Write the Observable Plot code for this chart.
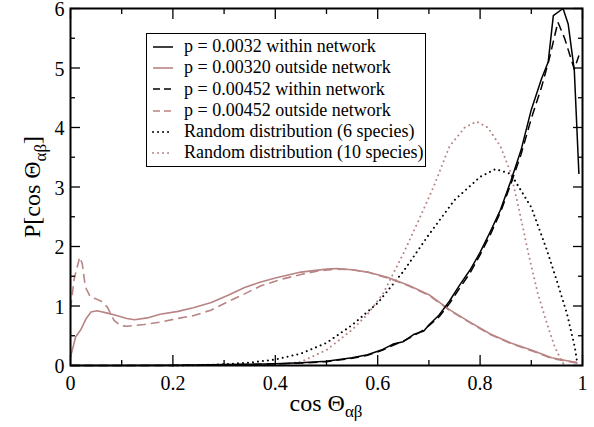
<!DOCTYPE html>
<html>
<head>
<meta charset="utf-8">
<script src="https://cdn.jsdelivr.net/npm/d3@7"></script>
<script src="https://cdn.jsdelivr.net/npm/@observablehq/plot@0.6"></script>
<style>
  html, body { margin: 0; padding: 0; background: white; }
  #wrap { position: relative; width: 594px; height: 427px; font-family: "Liberation Serif", "Times New Roman", Times, "DejaVu Serif", serif; }
  #wrap svg text { font-family: "Liberation Serif", "Times New Roman", Times, "DejaVu Serif", serif; }
  #legend { position: absolute; left: 146px; top: 33px; width: 280px; height: 134px; box-sizing: border-box;
            border: 1.5px solid black; background: white; padding-top: 2px; }
  .row { display: flex; align-items: center; height: 21.3px; font-size: 18px; line-height: 21.3px; white-space: nowrap; }
  .row svg { margin-left: 5px; margin-right: 10px; flex: none; }
</style>
</head>
<body>
<div id="wrap"></div>
<script>
// ---- data ----
const xTicksMajor = [0, 0.2, 0.4, 0.6, 0.8, 1];
const xTicksMinor = [0.1, 0.3, 0.5, 0.7, 0.9];
const yTicksMajor = [0, 1, 2, 3, 4, 5, 6];
const yTicksMinor = [0.5, 1.5, 2.5, 3.5, 4.5, 5.5];

const seriesNames = [
  "p = 0.0032 within network",
  "p = 0.00320 outside network",
  "p = 0.00452 within network",
  "p = 0.00452 outside network",
  "Random distribution (6 species)",
  "Random distribution (10 species)"
];

// p = 0.0032 within network (black solid)
const x1 = [0, 0.1, 0.2, 0.25, 0.3, 0.35, 0.4, 0.45, 0.5, 0.55, 0.58, 0.61, 0.63, 0.65, 0.67, 0.69, 0.70, 0.72, 0.74, 0.76, 0.78, 0.80, 0.82, 0.84, 0.86, 0.88, 0.90, 0.92, 0.933, 0.943, 0.962, 0.972, 0.984, 0.993];
const y1 = [0, 0, 0.003, 0.008, 0.015, 0.02, 0.03, 0.045, 0.07, 0.13, 0.18, 0.27, 0.36, 0.40, 0.52, 0.58, 0.68, 0.85, 1.08, 1.35, 1.6, 1.9, 2.25, 2.62, 3.1, 3.62, 4.3, 4.82, 5.1, 5.88, 6.0, 5.74, 4.96, 3.22];

// p = 0.00320 outside network (brown solid)
const x2 = [0, 0.01, 0.02, 0.03, 0.04, 0.052, 0.072, 0.09, 0.11, 0.125, 0.15, 0.175, 0.21, 0.24, 0.275, 0.31, 0.34, 0.37, 0.4, 0.45, 0.5, 0.52, 0.55, 0.58, 0.62, 0.66, 0.7, 0.74, 0.78, 0.82, 0.86, 0.9, 0.94, 0.97, 0.99];
const y2 = [0.14, 0.48, 0.6, 0.78, 0.9, 0.92, 0.88, 0.84, 0.79, 0.77, 0.8, 0.86, 0.91, 0.97, 1.06, 1.19, 1.31, 1.4, 1.47, 1.57, 1.62, 1.63, 1.61, 1.57, 1.48, 1.35, 1.19, 0.94, 0.73, 0.53, 0.38, 0.26, 0.13, 0.08, 0.05];

// p = 0.00452 within network (black dashed)
const x3 = [0, 0.1, 0.2, 0.25, 0.3, 0.35, 0.4, 0.45, 0.5, 0.55, 0.58, 0.61, 0.63, 0.65, 0.67, 0.69, 0.70, 0.72, 0.74, 0.76, 0.78, 0.80, 0.82, 0.84, 0.86, 0.88, 0.90, 0.92, 0.935, 0.952, 0.965, 0.984, 0.993];
const y3 = [0, 0, 0.002, 0.006, 0.012, 0.018, 0.028, 0.04, 0.065, 0.12, 0.17, 0.26, 0.34, 0.41, 0.5, 0.6, 0.67, 0.82, 1.04, 1.3, 1.55, 1.86, 2.2, 2.58, 3.05, 3.55, 4.15, 4.68, 5.15, 5.77, 5.5, 4.98, 5.21];

// p = 0.00452 outside network (brown dashed)
const x4 = [0, 0.007, 0.012, 0.018, 0.023, 0.029, 0.039, 0.05, 0.06, 0.072, 0.085, 0.098, 0.111, 0.144, 0.176, 0.209, 0.241, 0.274, 0.307, 0.339, 0.372, 0.417, 0.45, 0.483, 0.52, 0.55, 0.58, 0.62, 0.66, 0.7, 0.74, 0.78, 0.82, 0.86, 0.9, 0.94, 0.97, 0.99];
const y4 = [0.95, 1.45, 1.62, 1.82, 1.71, 1.32, 1.15, 1.12, 1.08, 0.98, 0.76, 0.67, 0.66, 0.69, 0.73, 0.79, 0.84, 0.93, 1.07, 1.2, 1.34, 1.46, 1.53, 1.59, 1.62, 1.61, 1.57, 1.47, 1.34, 1.18, 0.93, 0.72, 0.52, 0.37, 0.25, 0.12, 0.07, 0.04];

// Random distribution (6 species) (black dotted)
const x5 = [0.2, 0.25, 0.3, 0.35, 0.4, 0.45, 0.5, 0.55, 0.6, 0.65, 0.7, 0.75, 0.8, 0.83, 0.86, 0.9, 0.93, 0.95, 0.97, 0.985, 0.99];
const y5 = [0, 0.005, 0.02, 0.05, 0.1, 0.2, 0.38, 0.68, 1.05, 1.58, 2.2, 2.78, 3.17, 3.3, 3.22, 2.66, 1.95, 1.42, 0.86, 0.31, 0.03];

// Random distribution (10 species) (brown dotted)
const x6 = [0.35, 0.4, 0.45, 0.5, 0.55, 0.58, 0.61, 0.65, 0.68, 0.71, 0.74, 0.77, 0.793, 0.815, 0.84, 0.86, 0.875, 0.895, 0.913, 0.933, 0.946, 0.959, 0.965];
const y6 = [0, 0.01, 0.06, 0.26, 0.6, 0.86, 1.2, 1.88, 2.44, 3.02, 3.68, 4.0, 4.1, 4.0, 3.68, 3.24, 2.66, 1.86, 1.2, 0.64, 0.31, 0.08, 0];

// ---- styles ----
const FONT = "'Liberation Serif', 'Times New Roman', Times, 'DejaVu Serif', serif";
const BLACK = "#000000";
const BROWN = "#b98484";
const DOT = "0.01,5";
const styles = [
  {stroke: BLACK, dash: null, width: 1.5},
  {stroke: BROWN, dash: null, width: 1.6},
  {stroke: BLACK, dash: "9,5", width: 1.5},
  {stroke: BROWN, dash: "9,5", width: 1.6},
  {stroke: BLACK, dash: DOT, width: 2},
  {stroke: BROWN, dash: DOT, width: 2}
];
const xs = [x1, x2, x3, x4, x5, x6];
const ys = [y1, y2, y3, y4, y5, y6];

const lineMarks = xs.map((xa, i) => {
  const data = xa.map((x, j) => ({x, y: ys[i][j]}));
  const s = styles[i];
  return Plot.line(data, {x: "x", y: "y", stroke: s.stroke, strokeWidth: s.width,
    strokeDasharray: s.dash, strokeLinejoin: "round", strokeLinecap: s.dash === DOT ? "round" : "butt"});
});

const noText = {text: null, label: null, strokeWidth: 1.3};
const chart = Plot.plot({
  width: 594, height: 427,
  marginLeft: 70, marginRight: 12, marginTop: 8, marginBottom: 62,
  x: {domain: [0, 1]},
  y: {domain: [0, 6]},
  style: {fontFamily: FONT, fontSize: "20px", background: "white", color: "black"},
  marks: [
    ...lineMarks.reverse(),
    Plot.axisX({anchor: "bottom", ticks: xTicksMajor, tickSize: 0, tickPadding: 10, tickFormat: d => String(d), fontSize: 20, label: null}),
    Plot.axisY({anchor: "left", ticks: yTicksMajor, tickSize: 0, tickPadding: 6, dy: 1.5, tickFormat: d => String(d), fontSize: 20, label: null}),
    Plot.axisX({anchor: "bottom", ticks: xTicksMajor, tickSize: -10, ...noText}),
    Plot.axisX({anchor: "bottom", ticks: xTicksMinor, tickSize: -5, ...noText}),
    Plot.axisX({anchor: "top", ticks: xTicksMajor, tickSize: -10, ...noText}),
    Plot.axisX({anchor: "top", ticks: xTicksMinor, tickSize: -5, ...noText}),
    Plot.axisY({anchor: "left", ticks: yTicksMajor, tickSize: -10, ...noText}),
    Plot.axisY({anchor: "left", ticks: yTicksMinor, tickSize: -5, ...noText}),
    Plot.axisY({anchor: "right", ticks: yTicksMajor, tickSize: -10, ...noText}),
    Plot.axisY({anchor: "right", ticks: yTicksMinor, tickSize: -5, ...noText}),
    Plot.frame({stroke: "black", strokeWidth: 2})
  ]
});

const wrap = document.getElementById("wrap");
wrap.appendChild(chart);

// axis titles with subscripts
const svg = d3.select(chart);
const xt = svg.append("text").attr("x", 326).attr("y", 411).attr("text-anchor", "middle")
  .style("font-family", FONT).attr("font-size", 24).attr("fill", "black");
xt.append("tspan").text("cos Θ");
xt.append("tspan").attr("font-size", 17).attr("dy", 6).text("αβ");

const yt = svg.append("text").attr("transform", "translate(40,187) rotate(-90)").attr("text-anchor", "middle")
  .style("font-family", FONT).attr("font-size", 24).attr("fill", "black");
yt.append("tspan").text("P[cos Θ");
yt.append("tspan").attr("font-size", 17).attr("dy", 6).text("αβ");
yt.append("tspan").attr("dy", -6).text("]");

// legend
const legend = document.createElement("div");
legend.id = "legend";
seriesNames.forEach((name, i) => {
  const row = document.createElement("div");
  row.className = "row";
  const s = styles[i];
  const ns = "http://www.w3.org/2000/svg";
  const sw = document.createElementNS(ns, "svg");
  sw.setAttribute("width", 22); sw.setAttribute("height", 10);
  const ln = document.createElementNS(ns, "line");
  ln.setAttribute("x1", 1); ln.setAttribute("x2", 21); ln.setAttribute("y1", 5); ln.setAttribute("y2", 5);
  ln.setAttribute("stroke", s.stroke); ln.setAttribute("stroke-width", s.width);
  if (s.dash) ln.setAttribute("stroke-dasharray", s.dash === "9,5" ? "7,4" : s.dash);
  if (s.dash === DOT) ln.setAttribute("stroke-linecap", "round");
  sw.appendChild(ln);
  row.appendChild(sw);
  const t = document.createElement("span");
  t.textContent = name;
  row.appendChild(t);
  legend.appendChild(row);
});
wrap.appendChild(legend);
</script>
</body>
</html>
